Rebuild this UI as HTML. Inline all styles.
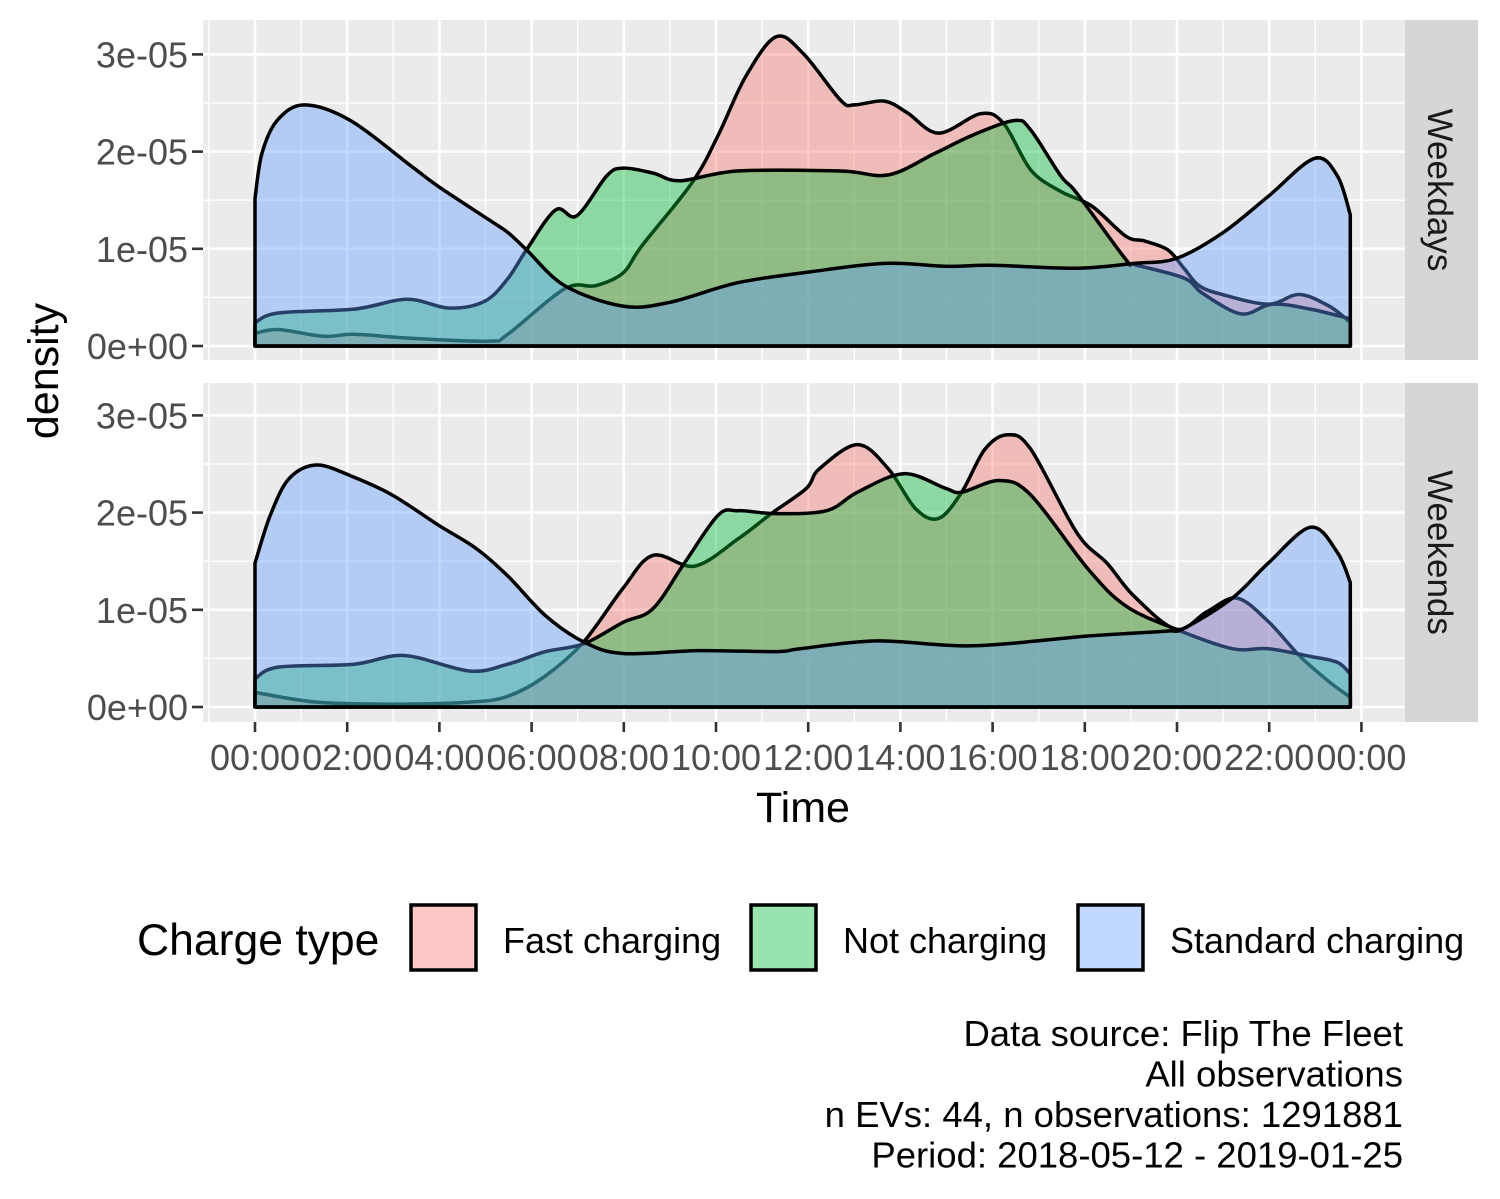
<!DOCTYPE html>
<html><head><meta charset="utf-8"><style>
html,body{margin:0;padding:0;background:#fff;}
svg{display:block;font-family:"Liberation Sans",Arial,sans-serif;}
</style></head><body>
<svg id="chart" width="1500" height="1199" viewBox="0 0 1500 1199"></svg>
<script>
// ---- data (density values in units of 1e-05, x in hours) ----
const seriesNames = ["Fast charging", "Not charging", "Standard charging"];
const yTickLabels = ["0e+00", "1e-05", "2e-05", "3e-05"];
const xTickLabels = ["00:00","02:00","04:00","06:00","08:00","10:00","12:00","14:00","16:00","18:00","20:00","22:00","00:00"];
const panelNames = ["Weekdays", "Weekends"];

const wdFastH = [0,0.5,1.48,2.15,3.39,5.07,5.48,6.72,7.39,7.98,8.39,9.48,10.04,10.63,11.3,11.89,12.7,13.0,13.65,14.15,14.83,15.74,16.24,16.83,17.48,18.15,18.89,19.3,19.8,20.15,20.48,20.98,21.98,22.65,23.3,23.76];
const wdFastV = [0.13,0.17,0.10,0.12,0.08,0.05,0.12,0.59,0.62,0.75,1.03,1.68,2.16,2.76,3.18,3.01,2.53,2.48,2.52,2.40,2.19,2.39,2.29,1.81,1.59,1.44,1.13,1.08,0.99,0.80,0.62,0.53,0.43,0.53,0.41,0.24];
const wdNotH = [0,0.5,2.15,3.3,4.22,4.98,5.48,5.89,6.52,6.98,7.63,7.98,8.63,9.22,10.46,12.7,13.74,14.74,15.57,16.48,16.83,17.48,17.83,18.89,19.07,20.15,20.56,21.39,22.06,22.89,23.76];
const wdNotV = [0.24,0.34,0.38,0.48,0.39,0.46,0.69,0.99,1.40,1.34,1.75,1.83,1.78,1.70,1.80,1.80,1.76,1.98,2.17,2.32,2.22,1.75,1.57,0.89,0.84,0.70,0.54,0.33,0.43,0.38,0.28];
const wdStdH = [0,0.15,0.48,1.07,2.07,3.39,3.98,5.07,5.48,5.89,6.72,7.98,9.0,10.46,12.0,13.65,14.98,15.98,17.83,19.07,19.98,20.98,21.98,22.98,23.48,23.76];
const wdStdV = [1.52,1.98,2.32,2.48,2.32,1.85,1.64,1.30,1.17,0.99,0.62,0.41,0.45,0.65,0.76,0.85,0.82,0.83,0.80,0.85,0.90,1.16,1.54,1.93,1.75,1.35];

const weFastH = [0,1.33,2.98,4.65,5.48,6.3,7.13,7.98,8.63,9.54,10.48,11.2,11.96,12.24,13.07,13.74,14.33,14.83,15.33,15.83,16.33,16.83,17.83,18.48,19.07,19.98,20.65,21.3,21.98,22.65,23.3,23.76];
const weFastV = [0.15,0.05,0.03,0.05,0.11,0.32,0.67,1.22,1.56,1.45,1.73,1.99,2.25,2.45,2.70,2.45,2.04,1.94,2.21,2.65,2.80,2.65,1.79,1.48,1.14,0.80,0.98,1.12,0.88,0.53,0.26,0.10];
const weNotH = [0,0.5,2.15,3.24,4.65,5.48,6.3,7.13,7.98,8.63,9.3,10.04,10.48,11.3,12.4,13.07,14.07,14.98,15.33,16.15,16.83,18.07,18.89,19.98,21.2,21.98,22.9,23.48,23.76];
const weNotV = [0.29,0.41,0.44,0.53,0.37,0.44,0.57,0.65,0.87,1.01,1.47,1.97,2.02,1.99,2.02,2.21,2.40,2.25,2.21,2.33,2.18,1.42,1.04,0.80,0.60,0.60,0.52,0.46,0.34];
const weStdH = [0,0.33,0.74,1.33,2.07,2.98,3.98,4.8,5.48,6.3,7.13,7.98,9.63,11.3,11.83,13.5,15.57,18.07,19.74,20.15,21.2,21.98,22.9,23.48,23.76];
const weStdV = [1.48,1.97,2.35,2.49,2.38,2.18,1.87,1.63,1.35,0.94,0.67,0.55,0.58,0.57,0.60,0.68,0.63,0.73,0.78,0.81,1.12,1.48,1.85,1.59,1.28];

const captionLines = ["Data source: Flip The Fleet","All observations","n EVs: 44, n observations: 1291881","Period: 2018-05-12 - 2019-01-25"];

// ---- layout ----
const NS = "http://www.w3.org/2000/svg";
const svg = document.getElementById("chart");
const PX0 = 203, PX1 = 1405;
const panels = [{top:20, bottom:360, base:346}, {top:383, bottom:722, base:707}];
const X0 = 255, PXH = 46.1, PXV = 97.2;
const fills = ["#F8766D", "#00BA38", "#619CFF"];
function xS(h){ return X0 + h * PXH; }
function yS(v, p){ return panels[p].base - v * PXV; }
function el(tag, attrs, parent){
  const e = document.createElementNS(NS, tag);
  for (const k in attrs) e.setAttribute(k, attrs[k]);
  (parent || svg).appendChild(e);
  return e;
}
function smoothPath(pts){
  let d = "M" + pts[0][0].toFixed(1) + "," + pts[0][1].toFixed(1);
  for (let i = 0; i < pts.length - 1; i++){
    const p0 = pts[Math.max(0, i-1)], p1 = pts[i], p2 = pts[i+1], p3 = pts[Math.min(pts.length-1, i+2)];
    const c1x = p1[0] + (p2[0]-p0[0])/6, c1y = p1[1] + (p2[1]-p0[1])/6;
    const c2x = p2[0] - (p3[0]-p1[0])/6, c2y = p2[1] - (p3[1]-p1[1])/6;
    d += " C" + c1x.toFixed(1)+","+c1y.toFixed(1)+" "+c2x.toFixed(1)+","+c2y.toFixed(1)+" "+p2[0].toFixed(1)+","+p2[1].toFixed(1);
  }
  return d;
}

const panelData = [
  [[wdFastH, wdFastV], [wdNotH, wdNotV], [wdStdH, wdStdV]],
  [[weFastH, weFastV], [weNotH, weNotV], [weStdH, weStdV]]
];

panels.forEach((P, pi) => {
  const g = el("g", {});
  
  
  el("rect", {x:PX0, y:P.top, width:PX1-PX0, height:P.bottom-P.top, fill:"#ebebeb"}, g);
  for (let v = 0.5; v < 3.6; v += 1){
    const y = yS(v, pi); if (y < P.top) continue;
    el("line", {x1:PX0, x2:PX1, y1:y, y2:y, stroke:"#fff", "stroke-width":1.3}, g);
  }
  for (let h = -1; h <= 25; h += 2){
    const x = xS(h); if (x < PX0 || x > PX1) continue;
    el("line", {x1:x, x2:x, y1:P.top, y2:P.bottom, stroke:"#fff", "stroke-width":1.3}, g);
  }
  yTickLabels.forEach((t, i) => {
    const y = yS(i, pi);
    el("line", {x1:PX0, x2:PX1, y1:y, y2:y, stroke:"#fff", "stroke-width":2.6}, g);
  });
  xTickLabels.forEach((t, i) => {
    const x = xS(i*2);
    el("line", {x1:x, x2:x, y1:P.top, y2:P.bottom, stroke:"#fff", "stroke-width":2.6}, g);
  });
  panelData[pi].forEach((s, si) => {
    const H = s[0], V = s[1];
    const pts = H.map((h, k) => [xS(h), yS(V[k], pi)]);
    const x0 = xS(H[0]), x1 = xS(H[H.length-1]), yb = yS(0, pi);
    const d = "M" + x0 + "," + yb + " L" + smoothPath(pts).slice(1) + " L" + x1 + "," + yb + " Z";
    const a = el("path", {d:d, fill:fills[si], "fill-opacity":0.4, stroke:"#000", "stroke-width":3.5, "stroke-linejoin":"round"}, g);
    
    
  });
  yTickLabels.forEach((t, i) => {
    const y = yS(i, pi);
    el("line", {x1:192, x2:PX0, y1:y, y2:y, stroke:"#333", "stroke-width":2.6}, g);
    const tx = el("text", {x:188, y:y+13, "text-anchor":"end", "font-size":36, fill:"#4d4d4d"}, g);
    tx.textContent = t;
    
    
  });
  el("rect", {x:PX1, y:P.top, width:73, height:P.bottom-P.top, fill:"#d6d6d6"}, g);
  const cy = (P.top + P.bottom)/2;
  const st = el("text", {x:0, y:0, "text-anchor":"middle", "font-size":35, fill:"#1a1a1a", transform:"translate(1428," + cy + ") rotate(90)"}, g);
  st.textContent = panelNames[pi];
  
  
});

xTickLabels.forEach((t, i) => {
  const x = xS(i*2);
  el("line", {x1:x, x2:x, y1:722, y2:732, stroke:"#333", "stroke-width":2.6});
  const tx = el("text", {x:x, y:770, "text-anchor":"middle", "font-size":36, fill:"#4d4d4d"});
  tx.textContent = t;
  
  
});
const xt = el("text", {x:803, y:822, "text-anchor":"middle", "font-size":43, fill:"#000"});
xt.textContent = "Time";


const yt = el("text", {x:0, y:0, "text-anchor":"middle", "font-size":43, fill:"#000", transform:"translate(58,371) rotate(-90)"});
yt.textContent = "density";



const lg = el("g", {});


const ltitle = el("text", {x:137, y:955, "font-size":44.5, fill:"#000"}, lg);
ltitle.textContent = "Charge type";


const keyX = [411, 751, 1078], labX = [503, 843, 1170];
seriesNames.forEach((n, i) => {
  const k = el("rect", {x:keyX[i], y:905, width:65, height:65, fill:fills[i], "fill-opacity":0.4, stroke:"#000", "stroke-width":3.5}, lg);
  
  
  const t = el("text", {x:labX[i], y:953, "font-size":36, fill:"#000"}, lg);
  t.textContent = n;
  
  
});

captionLines.forEach((c, i) => {
  const t = el("text", {x:1403, y:1046 + i*40.5, "text-anchor":"end", "font-size":36.5, fill:"#000"});
  t.textContent = c;
  
  
});
</script>
</body></html>
